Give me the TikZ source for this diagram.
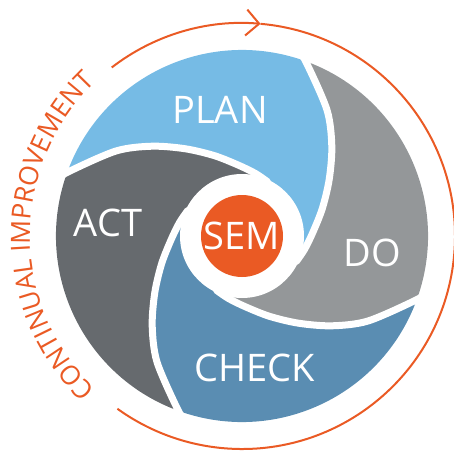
\documentclass[tikz,border=0pt]{standalone}
\usepackage{fontspec}
\setmainfont{Open Sans}
\definecolor{PlanBlue}{HTML}{76BBE5}
\definecolor{DoGray}{HTML}{949799}
\definecolor{CheckBlue}{HTML}{5A8DB2}
\definecolor{ActGray}{HTML}{666A6E}
\definecolor{SemOrange}{HTML}{EA5A24}
\usetikzlibrary{arrows.meta,decorations.text}

\begin{document}
\begin{tikzpicture}[
        x=1pt, y=1pt,
        divider/.style={draw=white, line width=7pt, line cap=round},
        phase/.style={text=white, inner sep=0pt, font=\fontsize{38}{40}\selectfont},
        loopline/.style={draw=SemOrange, line width=2pt}
    ]
    \useasboundingbox (-242,-217) rectangle (212,236);

    % Blades
    \foreach \col [count=\k from 0] in {PlanBlue,DoGray,CheckBlue,ActGray}
        \fill[\col, rotate=-90*\k] (160:186) -- plot[smooth] coordinates {(160:186) (146:152) (135:127) (123:104) (109:85) (93:71) (78:64) (65:60)}
            -- (65:45) arc[start angle=65, end angle=-25, radius=45]
            -- plot[smooth] coordinates {(-25:60) (-12:64) (3:71) (19:85) (33:104) (45:127) (56:152) (70:186)}
            arc[start angle=70, end angle=160, radius=186] -- cycle;

    % Dividers
    \foreach \k in {0,...,3}
        \draw[divider, rotate=-90*\k] plot[smooth] coordinates {(-25:60) (-12:64) (3:71) (19:85) (33:104) (45:127) (56:152) (70:186) (74:196)};

    % Hub
    \fill[white] (0,0) circle[radius=62];
    \node[circle, fill=SemOrange, minimum size=82pt, phase] (sem) at (0,0) {SEM};

    % Phases
    \node[phase] (plan) at (-22,126) {PLAN};
    \node[phase] (do) at (130,-17) {DO};
    \node[phase] (check) at (13,-132) {CHECK};
    \node[phase] (act) at (-134,13) {ACT};

    % Loop
    \coordinate (loopstart) at (127.7:213);
    \coordinate (looptip) at (85:213);
    \draw[loopline, -{Straight Barb[length=13pt, width=26pt]}] (loopstart) arc[start angle=127.7, end angle=85, radius=213];
    \draw[loopline] (looptip) arc[start angle=85, end angle=-125.8, radius=213];
    \path[decorate, decoration={text along path, text align=center, text color=SemOrange,
        text={|\fontsize{26.5}{30}\selectfont|CONTINUAL IMPROVEMENT}}] (234:212) arc[start angle=234, end angle=126, radius=212];

\end{tikzpicture}
\end{document}
